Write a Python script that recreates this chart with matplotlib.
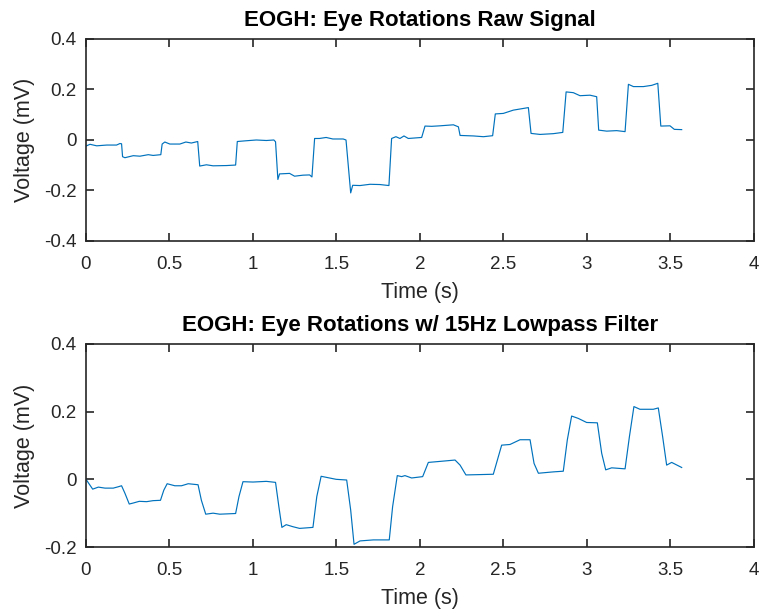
import matplotlib.pyplot as plt
import numpy as np

plt.rcParams['font.family'] = ['Liberation Sans', 'DejaVu Sans']

# raw EOG signal, vertices
raw_t = [0.000, 0.024, 0.064, 0.124, 0.183, 0.203, 0.213,
         0.219, 0.233, 0.283, 0.323, 0.373, 0.402, 0.448,
         0.456, 0.472, 0.502, 0.562, 0.598, 0.631, 0.669,
         0.681, 0.721, 0.761, 0.841, 0.896,
         0.906, 0.960, 1.020, 1.080, 1.125, 1.135,
         1.149, 1.159, 1.219, 1.249, 1.299, 1.339, 1.353,
         1.369, 1.398, 1.438, 1.478, 1.540, 1.557,
         1.585, 1.597, 1.641, 1.701, 1.760, 1.814,
         1.830, 1.856, 1.880, 1.904, 1.930, 2.010,
         2.030, 2.070, 2.120, 2.200, 2.230,
         2.240, 2.320, 2.380, 2.435,
         2.451, 2.499, 2.559, 2.649,
         2.665, 2.719, 2.798, 2.855,
         2.875, 2.918, 2.958, 3.018, 3.058,
         3.070, 3.118, 3.178, 3.228,
         3.248, 3.278, 3.338, 3.388, 3.424,
         3.442, 3.497, 3.523, 3.567]
raw_v = [-0.025, -0.018, -0.024, -0.021, -0.021, -0.015, -0.016,
         -0.067, -0.071, -0.063, -0.065, -0.059, -0.062, -0.059,
         -0.017, -0.009, -0.017, -0.017, -0.009, -0.013, -0.007,
         -0.104, -0.099, -0.103, -0.102, -0.100,
         -0.007, -0.004, -0.001, -0.003, -0.001, -0.008,
         -0.157, -0.135, -0.133, -0.144, -0.140, -0.139, -0.147,
         0.005, 0.005, 0.009, 0.003, 0.003, -0.001,
         -0.210, -0.180, -0.181, -0.176, -0.177, -0.181,
         0.005, 0.012, 0.005, 0.015, 0.005, 0.009,
         0.054, 0.053, 0.055, 0.059, 0.051,
         0.017, 0.015, 0.012, 0.016,
         0.102, 0.104, 0.117, 0.127,
         0.025, 0.021, 0.024, 0.029,
         0.189, 0.186, 0.174, 0.176, 0.170,
         0.038, 0.034, 0.036, 0.032,
         0.219, 0.210, 0.210, 0.215, 0.223,
         0.054, 0.055, 0.041, 0.040]

# 15 Hz lowpass filtered signal
filt_t = [0.000, 0.040, 0.074, 0.114, 0.163, 0.193, 0.213,
          0.233, 0.259, 0.283, 0.319, 0.363, 0.402, 0.446,
          0.466, 0.486, 0.532, 0.572, 0.612, 0.671,
          0.691, 0.717, 0.761, 0.801, 0.896,
          0.916, 0.940, 1.000, 1.080, 1.135,
          1.155, 1.173, 1.199, 1.239, 1.279, 1.359,
          1.382, 1.408, 1.448, 1.498, 1.561,
          1.585, 1.605, 1.641, 1.721, 1.816,
          1.836, 1.864, 1.890, 1.910, 1.950, 2.016,
          2.050, 2.120, 2.210, 2.240,
          2.275, 2.359, 2.439,
          2.489, 2.539, 2.599, 2.659,
          2.683, 2.709, 2.798, 2.858,
          2.882, 2.908, 2.948, 2.998, 3.062,
          3.088, 3.112, 3.148, 3.228,
          3.254, 3.281, 3.317, 3.397, 3.427,
          3.453, 3.477, 3.507, 3.567]
filt_v = [0.000, -0.029, -0.023, -0.026, -0.026, -0.022, -0.019,
          -0.041, -0.073, -0.070, -0.065, -0.066, -0.063, -0.062,
          -0.032, -0.013, -0.019, -0.019, -0.013, -0.016,
          -0.062, -0.103, -0.100, -0.103, -0.101,
          -0.051, -0.007, -0.008, -0.006, -0.009,
          -0.081, -0.142, -0.134, -0.140, -0.145, -0.142,
          -0.051, 0.009, 0.005, 0.000, -0.002,
          -0.091, -0.192, -0.182, -0.179, -0.179,
          -0.081, 0.011, 0.008, 0.011, 0.004, 0.008,
          0.050, 0.053, 0.057, 0.042,
          0.013, 0.014, 0.015,
          0.101, 0.103, 0.117, 0.117,
          0.047, 0.018, 0.022, 0.024,
          0.116, 0.187, 0.180, 0.168, 0.167,
          0.077, 0.028, 0.034, 0.031,
          0.126, 0.215, 0.207, 0.207, 0.211,
          0.126, 0.042, 0.050, 0.035]

LINE = '#0072BD'
AXC = '#262626'

fig = plt.figure(figsize=(7.59, 6.16), dpi=100)
ax1 = fig.add_axes([0.1133, 0.6088, 0.8801, 0.3287])
ax2 = fig.add_axes([0.1133, 0.1120, 0.8801, 0.3296])

panels = [
    (ax1, raw_t, raw_v, 'EOGH: Eye Rotations Raw Signal', (-0.4, 0.4)),
    (ax2, filt_t, filt_v, 'EOGH: Eye Rotations w/ 15Hz Lowpass Filter', (-0.2, 0.4)),
]

for ax, t, v, title, ylim in panels:
    ax.plot(t, v, color=LINE, lw=0.85)
    ax.set_xlim(0, 4)
    ax.set_ylim(*ylim)
    ax.set_xticks(np.arange(0, 4.01, 0.5))
    ax.set_xticklabels(['0', '0.5', '1', '1.5', '2', '2.5', '3', '3.5', '4'])
    yt = np.round(np.arange(ylim[0], ylim[1] + 0.001, 0.2), 1)
    ax.set_yticks(yt)
    ax.set_yticklabels(['0' if y == 0 else f'{y:g}' for y in yt])
    ax.tick_params(direction='in', length=6, width=1.2, colors=AXC,
                   labelsize=13.5, top=True, right=True)
    ax.tick_params(axis='x', pad=11)
    ax.tick_params(axis='y', pad=7)
    for s in ax.spines.values():
        s.set_color(AXC)
        s.set_linewidth(1.2)
    ax.set_title(title, fontsize=16, fontweight='bold', color='black', pad=9)
    ax.set_xlabel('Time (s)', fontsize=15.5, color=AXC, labelpad=6)
    ax.set_ylabel('Voltage (mV)', fontsize=15.5, color=AXC, labelpad=6)

fig.savefig('out.png', dpi=100)
